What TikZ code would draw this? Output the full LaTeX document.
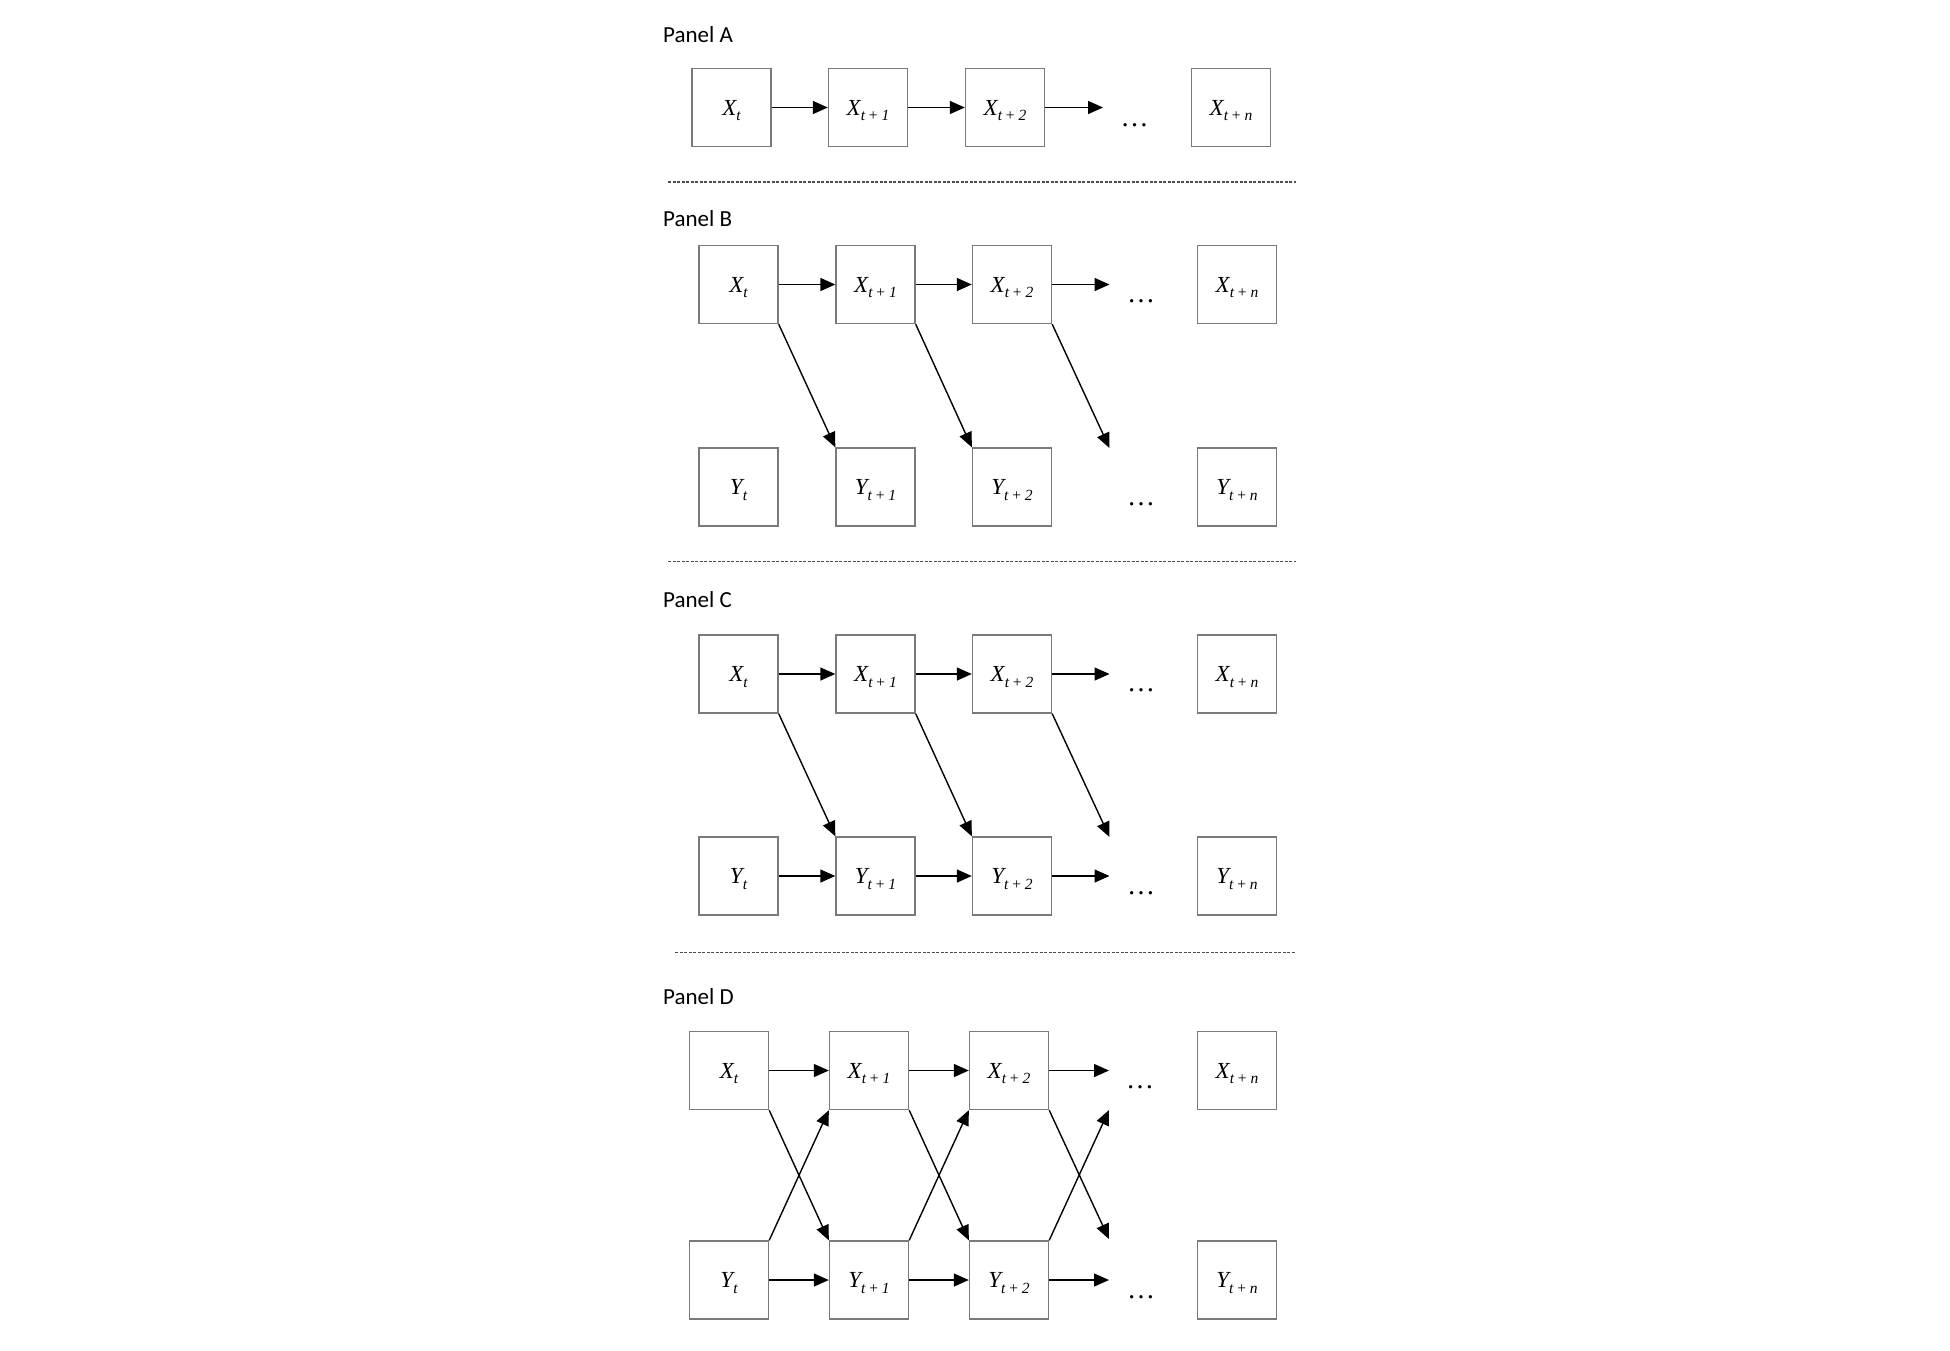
\documentclass[tikz,border=0pt]{standalone}
\usepackage{fontspec}
\setmainfont{Carlito}
\newfontfamily\tms{Liberation Serif}
\usetikzlibrary{arrows.meta}
\newcommand\vv[2]{{\tms\fontsize{23pt}{23pt}\selectfont\itshape #1\raisebox{-5.5pt}{\fontsize{15.5pt}{15.5pt}\selectfont #2}}}
\newcommand\pl{{\upshape +}}
\definecolor{boxgray}{HTML}{7A7A7A}
\tikzset{
  box/.style={draw=boxgray, line width=1.4pt, minimum width=79pt, minimum height=78pt, inner sep=0pt, text height=15.2pt, text depth=0pt},
  arr/.style={-{Triangle[length=15pt,width=13pt]}, line width=1.4pt, draw=black},
  dotsnode/.style={font=\tms\fontsize{28pt}{28pt}\selectfont, inner sep=0pt},
  sepline/.style={dash pattern=on 3pt off 1.5pt, line width=1.1pt, draw=black!70},
  lbl/.style={font=\fontsize{23pt}{27pt}\selectfont, anchor=base west, inner sep=0pt}
}
\begin{document}
\begin{tikzpicture}[x=1pt,y=-1pt]
\fill[white] (0,0) rectangle (1950,1350);
\useasboundingbox (0,0) rectangle (1950,1350);

% ---------------- Panel A
\node[lbl] (la) at (663,42) {Panel A};
\node[box] (a0) at (731.5,107.5) {\vv{X}{t}};
\node[box] (a1) at (868,107.5) {\vv{X}{t \pl{} 1}};
\node[box] (a2) at (1005,107.5) {\vv{X}{t \pl{} 2}};
\node[box] (an) at (1231,107.5) {\vv{X}{t \pl{} n}};
\coordinate (a3) at (1103,107.5);
\node[dotsnode] (ad) at (1134.5,125) {…};
\draw[arr] (a0.east) -- (a1.west);
\draw[arr] (a1.east) -- (a2.west);
\draw[arr] (a2.east) -- (a3);
\draw[sepline] (668,182) -- (1296,182);

% ---------------- Panel B
\node[lbl] (lb) at (663,226) {Panel B};
\node[box] (bx0) at (738.5,284.5) {\vv{X}{t}};
\node[box] (bx1) at (875.5,284.5) {\vv{X}{t \pl{} 1}};
\node[box] (bx2) at (1012,284.5) {\vv{X}{t \pl{} 2}};
\node[box] (bxn) at (1237,284.5) {\vv{X}{t \pl{} n}};
\node[box] (by0) at (738.5,487) {\vv{Y}{t}};
\node[box] (by1) at (875.5,487) {\vv{Y}{t \pl{} 1}};
\node[box] (by2) at (1012,487) {\vv{Y}{t \pl{} 2}};
\node[box] (byn) at (1237,487) {\vv{Y}{t \pl{} n}};
\coordinate (bx3) at (1109.5,284.5);
\coordinate (by3) at (1109.5,448);
\node[dotsnode] (bdx) at (1141,301.5) {…};
\node[dotsnode] (bdy) at (1141,504) {…};
\draw[arr] (bx0.east) -- (bx1.west);
\draw[arr] (bx1.east) -- (bx2.west);
\draw[arr] (bx2.east) -- (bx3);
\draw[arr] (bx0.south east) -- (by1.north west);
\draw[arr] (bx1.south east) -- (by2.north west);
\draw[arr] (bx2.south east) -- (by3);
\draw[sepline] (668,561.5) -- (1296,561.5);

% ---------------- Panel C
\node[lbl] (lc) at (663,607) {Panel C};
\node[box] (cx0) at (738.5,674) {\vv{X}{t}};
\node[box] (cx1) at (875.5,674) {\vv{X}{t \pl{} 1}};
\node[box] (cx2) at (1012,674) {\vv{X}{t \pl{} 2}};
\node[box] (cxn) at (1237,674) {\vv{X}{t \pl{} n}};
\node[box] (cy0) at (738.5,876) {\vv{Y}{t}};
\node[box] (cy1) at (875.5,876) {\vv{Y}{t \pl{} 1}};
\node[box] (cy2) at (1012,876) {\vv{Y}{t \pl{} 2}};
\node[box] (cyn) at (1237,876) {\vv{Y}{t \pl{} n}};
\coordinate (cx3) at (1109.5,674);
\coordinate (cy3) at (1109.5,876);
\coordinate (cy3t) at (1109.5,837);
\node[dotsnode] (cdx) at (1141,690) {…};
\node[dotsnode] (cdy) at (1141,893) {…};
\draw[arr] (cx0.east) -- (cx1.west);
\draw[arr] (cx1.east) -- (cx2.west);
\draw[arr] (cx2.east) -- (cx3);
\draw[arr] (cy0.east) -- (cy1.west);
\draw[arr] (cy1.east) -- (cy2.west);
\draw[arr] (cy2.east) -- (cy3);
\draw[arr] (cx0.south east) -- (cy1.north west);
\draw[arr] (cx1.south east) -- (cy2.north west);
\draw[arr] (cx2.south east) -- (cy3t);
\draw[sepline] (675,952.7) -- (1296,952.7);

% ---------------- Panel D
\node[lbl] (ld) at (663,1004) {Panel D};
\node[box] (dx0) at (729,1070.5) {\vv{X}{t}};
\node[box] (dx1) at (869,1070.5) {\vv{X}{t \pl{} 1}};
\node[box] (dx2) at (1009,1070.5) {\vv{X}{t \pl{} 2}};
\node[box] (dxn) at (1237,1070.5) {\vv{X}{t \pl{} n}};
\node[box] (dy0) at (729,1280) {\vv{Y}{t}};
\node[box] (dy1) at (869,1280) {\vv{Y}{t \pl{} 1}};
\node[box] (dy2) at (1009,1280) {\vv{Y}{t \pl{} 2}};
\node[box] (dyn) at (1237,1280) {\vv{Y}{t \pl{} n}};
\coordinate (dx3) at (1109,1070.5);
\coordinate (dy3) at (1109,1280);
\coordinate (dx3b) at (1109,1110);
\coordinate (dy3t) at (1109,1239);
\node[dotsnode] (ddx) at (1140,1087) {…};
\node[dotsnode] (ddy) at (1141,1297) {…};
\draw[arr] (dx0.east) -- (dx1.west);
\draw[arr] (dx1.east) -- (dx2.west);
\draw[arr] (dx2.east) -- (dx3);
\draw[arr] (dy0.east) -- (dy1.west);
\draw[arr] (dy1.east) -- (dy2.west);
\draw[arr] (dy2.east) -- (dy3);
\draw[arr] (dx0.south east) -- (dy1.north west);
\draw[arr] (dx1.south east) -- (dy2.north west);
\draw[arr] (dx2.south east) -- (dy3t);
\draw[arr] (dy0.north east) -- (dx1.south west);
\draw[arr] (dy1.north east) -- (dx2.south west);
\draw[arr] (dy2.north east) -- (dx3b);
\end{tikzpicture}
\end{document}
